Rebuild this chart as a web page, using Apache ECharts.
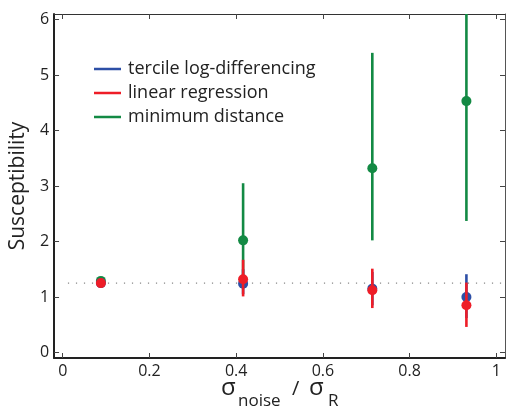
<!DOCTYPE html>
<html>
<head>
<meta charset="utf-8">
<script src="https://cdn.jsdelivr.net/npm/echarts@6/dist/echarts.min.js"></script>
<style>
html,body{margin:0;padding:0;background:#fff;}
#chart{width:507px;height:414px;}
</style>
</head>
<body>
<div id="chart"></div>
<script>
const xTicks = [0, 0.2, 0.4, 0.6, 0.8, 1];
const yTicks = [0, 1, 2, 3, 4, 5, 6];
const noiseRatio = [0.088, 0.416, 0.714, 0.931];
const seriesNames = ['tercile log-differencing', 'linear regression', 'minimum distance'];
const tercileVal = [1.25, 1.24, 1.15, 1.00];
const tercileLo  = [1.22, 1.05, 0.85, 0.62];
const tercileHi  = [1.28, 1.50, 1.45, 1.41];
const regressVal = [1.25, 1.32, 1.12, 0.85];
const regressLo  = [1.22, 1.01, 0.80, 0.46];
const regressHi  = [1.28, 1.67, 1.51, 1.26];
const minDistVal = [1.29, 2.02, 3.32, 4.53];
const minDistLo  = [1.25, 1.20, 2.02, 2.37];
const minDistHi  = [1.33, 3.05, 5.40, 6.60];
const refLevel = 1.25;

const FONT = 'Open Sans';
const colors = {green: '#138a44', blue: '#2d4fa6', red: '#ee1d27'};

function build(val, lo, hi) {
  return noiseRatio.map((x, i) => [x, val[i], lo[i], hi[i]]);
}

function errRender(color) {
  return function (params, api) {
    const x = api.value(0);
    const p = api.coord([x, api.value(1)]);
    const lo = api.coord([x, api.value(2)]);
    const hi = api.coord([x, api.value(3)]);
    return {
      type: 'group',
      children: [
        {type: 'line', shape: {x1: lo[0], y1: lo[1], x2: hi[0], y2: hi[1]},
         style: {stroke: color, lineWidth: 2.6}},
        {type: 'circle', shape: {cx: p[0], cy: p[1], r: 5}, style: {fill: color}}
      ]
    };
  };
}

const chart = echarts.init(document.getElementById('chart'), null, {renderer: 'canvas'});
const axisBase = {
  type: 'value',
  splitLine: {show: false},
};
chart.setOption({
  animation: false,
  backgroundColor: '#fff',
  grid: {left: 54, right: 2, top: 14, bottom: 56, containLabel: false},
  legend: {
    data: [seriesNames[0], seriesNames[1], seriesNames[2]],
    orient: 'vertical',
    left: 89, top: 55,
    icon: 'rect',
    itemWidth: 27, itemHeight: 2.5,
    itemGap: 6,
    textStyle: {fontFamily: FONT, fontSize: 18, color: '#222', padding: [0, 0, 0, 2], lineHeight: 18},
    selectedMode: false
  },
  xAxis: [
    Object.assign({}, axisBase, {
      min: -0.02, max: 1.02, position: 'bottom',
      axisLine: {show: true, onZero: false, lineStyle: {color: '#222', width: 2}},
      axisTick: {show: true, inside: true, length: 5, customValues: xTicks, lineStyle: {color: '#444', width: 1}},
      axisLabel: {show: true, customValues: xTicks, margin: 5, fontFamily: FONT, fontSize: 16, color: '#222'}
    }),
    Object.assign({}, axisBase, {
      min: -0.02, max: 1.02, position: 'top',
      axisLine: {show: true, onZero: false, lineStyle: {color: '#333', width: 1}},
      axisTick: {show: true, inside: true, length: 5, customValues: xTicks, lineStyle: {color: '#444', width: 1}},
      axisLabel: {show: false}
    })
  ],
  yAxis: [
    Object.assign({}, axisBase, {
      min: -0.1, max: 6.1, position: 'left',
      axisLine: {show: true, onZero: false, lineStyle: {color: '#222', width: 2}},
      axisTick: {show: true, inside: true, length: 5, customValues: yTicks, lineStyle: {color: '#444', width: 1}},
      axisLabel: {show: true, customValues: yTicks, margin: 5, fontFamily: FONT, fontSize: 16, color: '#222'},
      name: 'Susceptibility', nameLocation: 'middle', nameGap: 22,
      nameTextStyle: {fontFamily: FONT, fontSize: 21, color: '#222'}
    }),
    Object.assign({}, axisBase, {
      min: -0.1, max: 6.1, position: 'right',
      axisLine: {show: true, onZero: false, lineStyle: {color: '#555', width: 1}},
      axisTick: {show: true, inside: true, length: 5, customValues: yTicks, lineStyle: {color: '#444', width: 1}},
      axisLabel: {show: false}
    })
  ],
  graphic: [
    {type: 'text', left: 221, top: 376, style: {text: 'σ', font: '24px ' + FONT, fill: '#222'}},
    {type: 'text', left: 238, top: 393, style: {text: 'noise', font: '17px ' + FONT, fill: '#222'}},
    {type: 'text', left: 292, top: 379, style: {text: '/', font: '20px ' + FONT, fill: '#222'}},
    {type: 'text', left: 309, top: 376, style: {text: 'σ', font: '24px ' + FONT, fill: '#222'}},
    {type: 'text', left: 328, top: 393, style: {text: 'R', font: '17px ' + FONT, fill: '#222'}}
  ],
  series: [
    {
      type: 'line', name: 'ref', silent: true, symbol: 'none',
      data: [[0.012, refLevel], [1.02, refLevel]],
      lineStyle: {color: '#888', width: 1.2, type: [1.2, 6.8]},
      z: 1
    },
    {
      type: 'custom', name: seriesNames[2], renderItem: errRender(colors.green),
      data: build(minDistVal, minDistLo, minDistHi), clip: true,
      itemStyle: {color: colors.green}, encode: {x: 0, y: 1}, z: 2
    },
    {
      type: 'custom', name: seriesNames[0], renderItem: errRender(colors.blue),
      data: build(tercileVal, tercileLo, tercileHi), clip: true,
      itemStyle: {color: colors.blue}, encode: {x: 0, y: 1}, z: 3
    },
    {
      type: 'custom', name: seriesNames[1], renderItem: errRender(colors.red),
      data: build(regressVal, regressLo, regressHi), clip: true,
      itemStyle: {color: colors.red}, encode: {x: 0, y: 1}, z: 4
    }
  ]
});
</script>
</body>
</html>
